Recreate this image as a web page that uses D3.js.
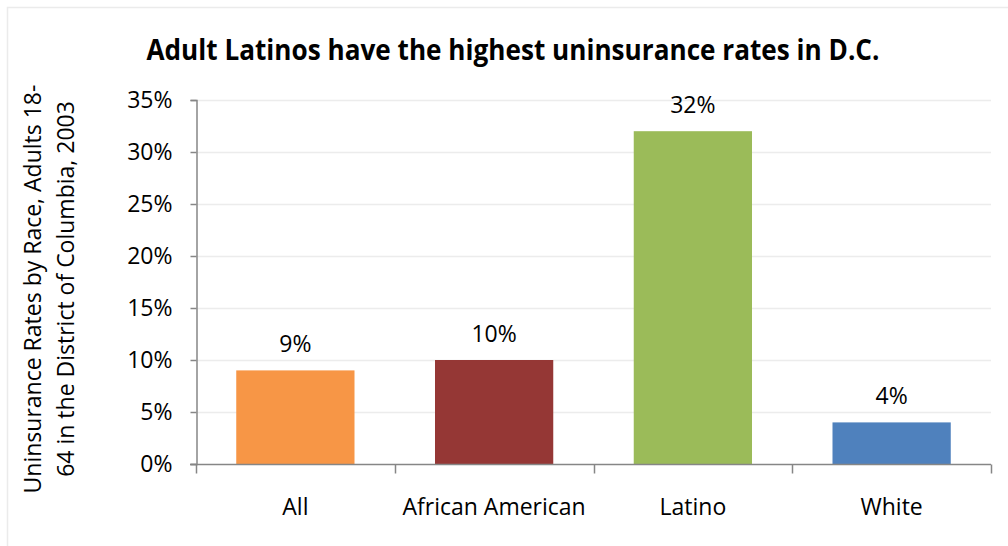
<!DOCTYPE html>
<html>
<head>
<meta charset="utf-8">
<script src="https://cdn.jsdelivr.net/npm/d3@7"></script>
<style>
  html, body { margin: 0; padding: 0; background: #fff; }
  svg { display: block; }
  text { font-family: "Open Sans", Lato, sans-serif; fill: #000; }
</style>
</head>
<body>
<svg id="chart" width="1008" height="546"></svg>
<script>
// Uninsurance rates, adults 18-64, District of Columbia, 2003
const categories = ["All", "African American", "Latino", "White"];
const rates = [9, 10, 32, 4];
const barColors = ["#F79646", "#953735", "#9BBB59", "#4F81BD"];
const yTicks = [0, 5, 10, 15, 20, 25, 30, 35];
const titleText = "Adult Latinos have the highest uninsurance rates in D.C.";
const yTitleLines = ["Uninsurance Rates by Race, Adults 18-", "64 in the District of Columbia, 2003"];

const svg = d3.select("#chart");
const W = 1008, H = 546;
const plot = { left: 196, right: 991, top: 100, bottom: 464 };
const labelSize = 23;

// chart frame
svg.append("rect")
  .attr("x", 7.5).attr("y", 7.5)
  .attr("width", W + 10).attr("height", H + 10)
  .attr("fill", "#fff").attr("stroke", "#ebebeb").attr("stroke-width", 1.5);

const x = d3.scaleBand()
  .domain(categories)
  .range([plot.left, plot.right])
  .paddingInner(0.405)
  .paddingOuter(0.2025);

const y = d3.scaleLinear()
  .domain([0, 35])
  .range([plot.bottom, plot.top]);

// gridlines
svg.append("g")
  .selectAll("line")
  .data(yTicks.filter(d => d > 0))
  .join("line")
  .attr("x1", plot.left).attr("x2", plot.right)
  .attr("y1", d => Math.round(y(d)) + 0.5).attr("y2", d => Math.round(y(d)) + 0.5)
  .attr("stroke", "#ececec").attr("stroke-width", 1.5);

// bars
svg.append("g")
  .selectAll("rect")
  .data(categories)
  .join("rect")
  .attr("x", d => x(d))
  .attr("width", x.bandwidth())
  .attr("y", (d, i) => y(rates[i]))
  .attr("height", (d, i) => y(0) - y(rates[i]))
  .attr("fill", (d, i) => barColors[i]);

// value labels
svg.append("g")
  .selectAll("text")
  .data(categories)
  .join("text")
  .attr("x", d => x(d) + x.bandwidth() / 2)
  .attr("y", (d, i) => y(rates[i]) - 18.5)
  .attr("text-anchor", "middle")
  .attr("font-size", labelSize)
  .text((d, i) => rates[i] + "%");

// y axis
const yAxis = d3.axisLeft(y)
  .tickValues(yTicks)
  .tickSize(6)
  .tickPadding(18)
  .tickFormat(d => d + "%");
const yg = svg.append("g")
  .attr("transform", `translate(${plot.left + 0.5},0)`)
  .call(yAxis);
yg.select(".domain").attr("stroke", "#868686").attr("stroke-width", 1.5);
yg.selectAll(".tick line").attr("stroke", "#868686").attr("stroke-width", 1.5);
yg.selectAll(".tick text")
  .attr("font-size", labelSize)
  .attr("font-family", "'Open Sans', Lato, sans-serif")
  .attr("fill", "#000");

// x axis with boundary ticks between categories
const xBoundary = d3.scaleLinear().domain([0, categories.length]).range([plot.left, plot.right]);
const xg = svg.append("g").attr("transform", `translate(0,${plot.bottom + 0.5})`);
xg.append("line")
  .attr("x1", plot.left - 6).attr("x2", plot.right)
  .attr("stroke", "#868686").attr("stroke-width", 1.5);
xg.selectAll("line.tk")
  .data(d3.range(categories.length + 1))
  .join("line")
  .attr("class", "tk")
  .attr("x1", d => Math.round(xBoundary(d)) + 0.5)
  .attr("x2", d => Math.round(xBoundary(d)) + 0.5)
  .attr("y1", 0).attr("y2", 9)
  .attr("stroke", "#868686").attr("stroke-width", 1.5);
xg.selectAll("text")
  .data(categories)
  .join("text")
  .attr("x", d => x(d) + x.bandwidth() / 2)
  .attr("y", 50)
  .attr("text-anchor", "middle")
  .attr("font-size", labelSize)
  .text(d => d);

// title
svg.append("text")
  .attr("x", 513).attr("y", 60)
  .attr("text-anchor", "middle")
  .attr("font-family", "Lato, 'Open Sans', sans-serif")
  .attr("font-size", 29)
  .attr("font-weight", "bold")
  .attr("textLength", 733)
  .attr("lengthAdjust", "spacingAndGlyphs")
  .text(titleText);

// y axis title
const yt = svg.append("text")
  .attr("transform", "translate(41,289) rotate(-90)")
  .attr("text-anchor", "middle")
  .attr("font-size", labelSize);
yt.selectAll("tspan")
  .data(yTitleLines)
  .join("tspan")
  .attr("x", 0)
  .attr("dy", (d, i) => i === 0 ? 0 : 33)
  .text(d => d);
</script>
</body>
</html>
